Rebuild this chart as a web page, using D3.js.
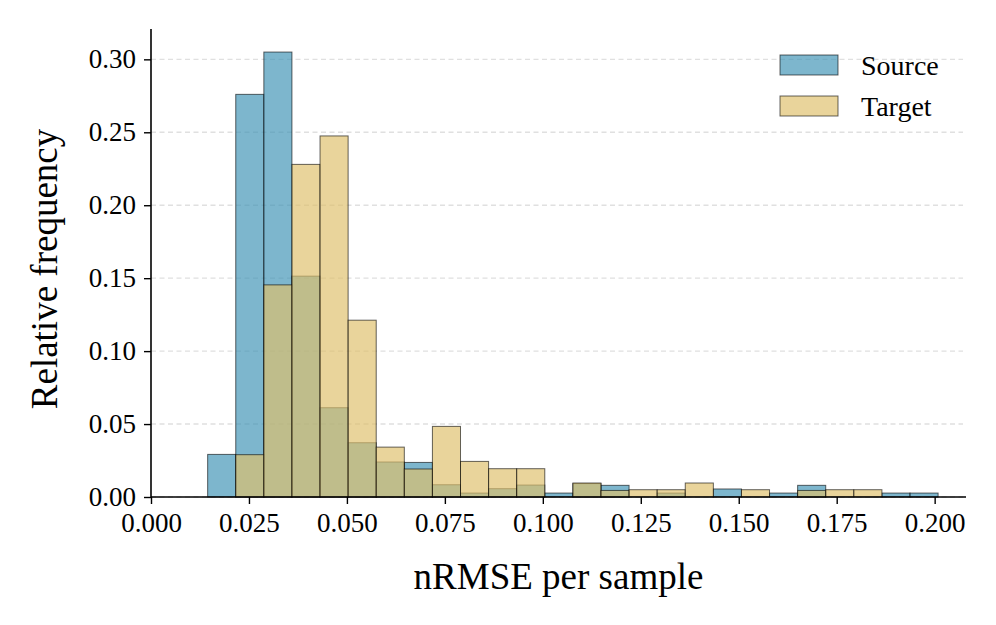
<!DOCTYPE html>
<html>
<head>
<meta charset="utf-8">
<script src="https://cdn.jsdelivr.net/npm/d3@7"></script>
<style>
  html, body { margin: 0; padding: 0; background: #fff; }
  #chart { width: 996px; height: 625px; }
  text { font-family: "Liberation Serif", "Times New Roman", serif; fill: #000; }
</style>
</head>
<body>
<div id="chart"></div>
<script>
// bin edges shared by both histograms (nRMSE)
var binEdges = [0.01446, 0.02163, 0.02880, 0.03597, 0.04314, 0.05031, 0.05748, 0.06465, 0.07182,
  0.07899, 0.08616, 0.09333, 0.10050, 0.10767, 0.11484, 0.12201, 0.12918, 0.13635, 0.14352,
  0.15069, 0.15786, 0.16503, 0.17220, 0.17937, 0.18654, 0.19371, 0.20088]
var sourceFreq = [0.0292, 0.276, 0.305, 0.1514, 0.0612, 0.0372, 0.024, 0.0237, 0.0084, 0.0027,
  0.0057, 0.0082, 0.0027, 0.0092, 0.008, 0, 0.0027, 0, 0.0055, 0, 0.0027, 0.008, 0, 0, 0.0027, 0.0027]
var targetFreq = [0, 0.029, 0.1454, 0.228, 0.2475, 0.1212, 0.0342, 0.0192, 0.0484, 0.0244,
  0.0194, 0.0194, 0, 0.0096, 0.0045, 0.005, 0.005, 0.0096, 0, 0.005, 0, 0.0045, 0.005, 0.005, 0, 0]
var xTicks = [0, 0.025, 0.05, 0.075, 0.1, 0.125, 0.15, 0.175, 0.2]
var yTicks = [0, 0.05, 0.1, 0.15, 0.2, 0.25, 0.3]
var seriesNames = ['Source', 'Target']
var seriesColors = ['#3f93b6', '#dfc06c']

var width = 996, height = 625
var margin = {top: 29, right: 30, bottom: 128, left: 151}
var mainWidth = width - margin.left - margin.right
var mainHeight = height - margin.top - margin.bottom

var svg = d3.select('#chart').append('svg').attr('width', width).attr('height', height)
var g = svg.append('g').attr('transform', 'translate(' + margin.left + ',' + margin.top + ')')

//比例尺
var x = d3.scaleLinear().domain([0, 0.208]).range([0, mainWidth])
var y = d3.scaleLinear().domain([0, 0.3208]).range([mainHeight, 0])

// grid
g.append('g')
  .selectAll('line')
  .data(yTicks)
  .enter()
  .append('line')
  .attr('x1', 0)
  .attr('x2', mainWidth - 3)
  .attr('y1', function (d) { return y(d) })
  .attr('y2', function (d) { return y(d) })
  .attr('stroke', '#e0e0e0')
  .attr('stroke-width', 1.4)
  .attr('stroke-dasharray', '5,3.5')

// bars
var series = [sourceFreq, targetFreq]
series.forEach(function (vals, s) {
  var bins = vals.map(function (v, i) { return {x0: binEdges[i], x1: binEdges[i + 1], v: v} })
    .filter(function (d) { return d.v > 0 })
  g.append('g')
    .selectAll('rect')
    .data(bins)
    .enter()
    .append('rect')
    .attr('x', function (d) { return x(d.x0) })
    .attr('width', function (d) { return x(d.x1) - x(d.x0) })
    .attr('y', function (d) { return y(d.v) })
    .attr('height', function (d) { return y(0) - y(d.v) })
    .attr('fill', seriesColors[s])
    .attr('fill-opacity', 0.68)
    .attr('stroke', '#000')
    .attr('stroke-opacity', 0.6)
    .attr('stroke-width', 1)
})

//轴
var xAxis = d3.axisBottom(x).tickValues(xTicks).tickFormat(d3.format('.3f')).tickSize(7).tickPadding(9)
var yAxis = d3.axisLeft(y).tickValues(yTicks).tickFormat(d3.format('.2f')).tickSize(7).tickPadding(8)

var gx = g.append('g')
  .attr('transform', 'translate(0,' + mainHeight + ')')
  .call(xAxis)
var gy = g.append('g').call(yAxis)

;[gx, gy].forEach(function (ax) {
  ax.select('.domain').attr('stroke', '#000').attr('stroke-width', 1.6)
  ax.selectAll('.tick line').attr('stroke', '#000').attr('stroke-width', 1.4)
  ax.selectAll('.tick text')
    .attr('font-family', '"Liberation Serif", serif')
    .attr('font-size', 27)
    .attr('fill', '#000')
})
gx.select('.domain').attr('d', 'M0,0H' + mainWidth)
gy.select('.domain').attr('d', 'M0,' + mainHeight + 'V0')

// axis titles
svg.append('text')
  .text('nRMSE per sample')
  .attr('x', margin.left + mainWidth / 2)
  .attr('y', 589)
  .attr('text-anchor', 'middle')
  .attr('font-size', 37)

svg.append('text')
  .text('Relative frequency')
  .attr('transform', 'translate(57,' + (margin.top + mainHeight / 2 + 6) + ') rotate(-90)')
  .attr('text-anchor', 'middle')
  .attr('font-size', 37)

// legend
var legend = svg.append('g').attr('transform', 'translate(780,55)')
seriesNames.forEach(function (name, i) {
  var row = legend.append('g').attr('transform', 'translate(0,' + (i * 41) + ')')
  row.append('rect')
    .attr('width', 58)
    .attr('height', 20)
    .attr('fill', seriesColors[i])
    .attr('fill-opacity', 0.68)
    .attr('stroke', '#000')
    .attr('stroke-opacity', 0.6)
    .attr('stroke-width', 1)
  row.append('text')
    .text(name)
    .attr('x', 81)
    .attr('y', 20)
    .attr('font-size', 28)
})
</script>
</body>
</html>
